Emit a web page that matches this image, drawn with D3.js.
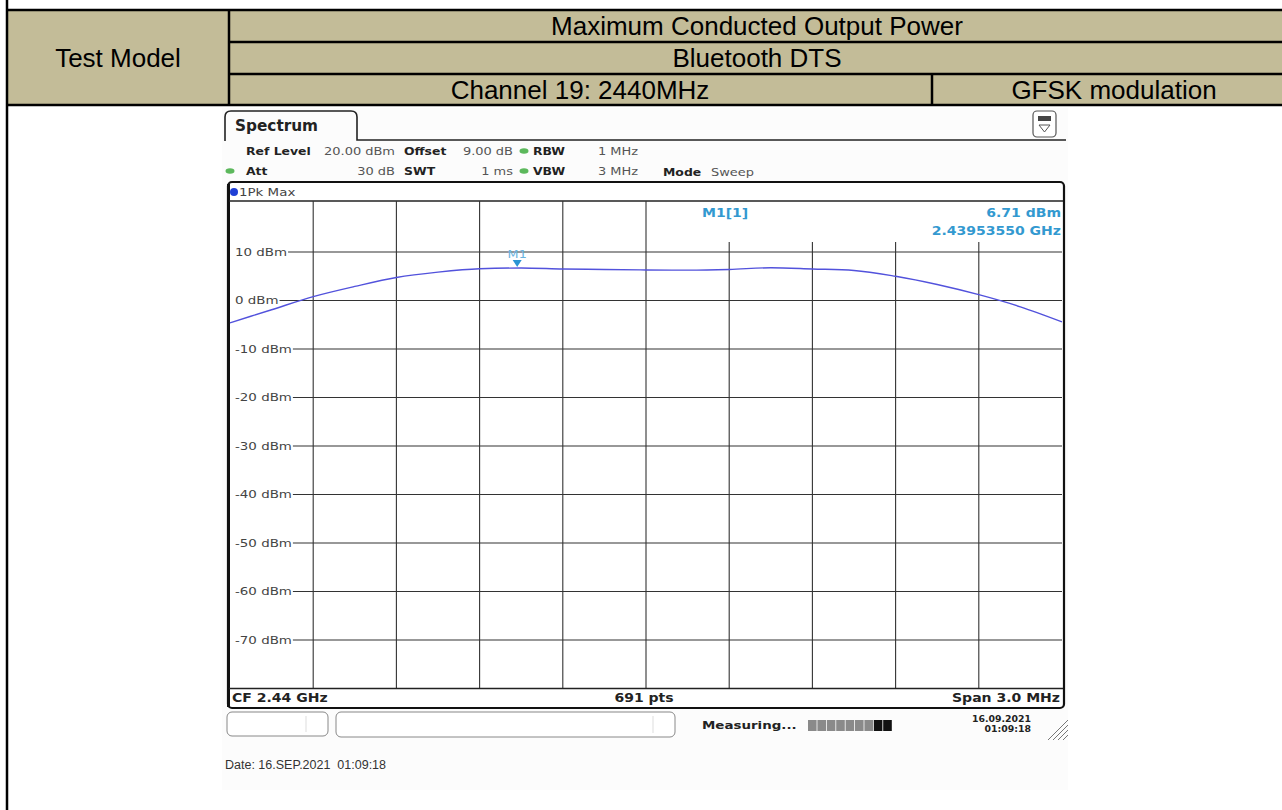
<!DOCTYPE html>
<html>
<head>
<meta charset="utf-8">
<script src="https://cdnjs.cloudflare.com/ajax/libs/d3/7.8.5/d3.min.js"></script>
<style>
  body { margin: 0; background: #fff; }
  text { white-space: pre; }
</style>
</head>
<body>
<div id="chart"></div>
<script>
const width = 1282
const height = 810

// table header
const headRows = ["Maximum Conducted Output Power", "Bluetooth DTS"]
const channelText = "Channel 19: 2440MHz"
const modText = "GFSK modulation"

// spectrum trace (MHz, dBm)
const freqMHz = [2438.50, 2438.65, 2438.80, 2438.95, 2439.10, 2439.25, 2439.40, 2439.55, 2439.70, 2439.85,
                 2440.00, 2440.15, 2440.30, 2440.45, 2440.60, 2440.75, 2440.90, 2441.05, 2441.20, 2441.35, 2441.50]
const levelDbm = [-4.6, -1.9, 0.8, 2.9, 4.75, 5.85, 6.55, 6.7, 6.5, 6.4,
                  6.3, 6.26, 6.4, 6.75, 6.5, 6.2, 5.0, 3.3, 1.2, -1.3, -4.4]
const gridFreqs = [2438.8, 2439.1, 2439.4, 2439.7, 2440.0, 2440.3, 2440.6, 2440.9, 2441.2]
const levelTicks = [10, 0, -10, -20, -30, -40, -50, -60, -70]
const marker = {name: "M1", freq: 2439.5355, level: 6.71}

const svg = d3.select("div#chart").append("svg").attr("width", width).attr("height", height)

// ---------- header table ----------
const tbl = svg.append("g").attr("class", "table")
tbl.append("rect").attr("x", 7).attr("y", 10).attr("width", width).attr("height", 95).attr("fill", "#c3bc98")
const ln = (g, x1, y1, x2, y2, w, c) => g.append("line").attr("x1", x1).attr("y1", y1).attr("x2", x2).attr("y2", y2)
    .attr("stroke", c || "#000").attr("stroke-width", w || 2.5)
ln(tbl, 7, 10, width, 10)
ln(tbl, 229, 42, width, 42)
ln(tbl, 229, 74, width, 74)
ln(tbl, 7, 105, width, 105)
ln(tbl, 229, 10, 229, 105)
ln(tbl, 932, 74, 932, 105)
ln(tbl, 7, 0, 7, height)

const tt = (x, y, s) => tbl.append("text").attr("x", x).attr("y", y).attr("text-anchor", "middle")
    .attr("font-family", "Liberation Sans, Arial").attr("font-size", 26).attr("fill", "#000").text(s)
tt(118, 67, "Test Model")
headRows.forEach((s, i) => tt(757, 35 + i * 32, s))
tt(580, 99, channelText)
tt(1114, 99, modText)

// ---------- spectrum screen ----------
const scr = svg.append("g").attr("class", "screen")
scr.append("rect").attr("x", 222).attr("y", 108).attr("width", 846).attr("height", 682).attr("fill", "#fcfcfc")

const SX = 1.22
const t = (x, y, s, o = {}) => scr.append("text")
    .attr("transform", `translate(${x},${y}) scale(${o.sx || SX},1)`)
    .attr("font-family", "DejaVu Sans").attr("font-size", o.size || 11.5)
    .attr("font-weight", o.bold ? "bold" : "normal").attr("fill", o.fill || "#333")
    .attr("text-anchor", o.anchor || "start").attr("dominant-baseline", "central").text(s)
const lab = (x, y, s) => t(x, y, s, {bold: true, fill: "#222", size: 11, sx: 1.13})
const val = (x, y, s, a) => t(x, y, s, {fill: "#555", size: 11, sx: 1.18, anchor: a || "start"})

// tab
scr.append("path").attr("d", "M225,141 V117 Q225,111 231,111 H351 Q357,111 357,117 V140 H1066")
    .attr("fill", "none").attr("stroke", "#222").attr("stroke-width", 1.6)
t(235, 126, "Spectrum", {size: 15, bold: true, sx: 1.02, fill: "#222"})
// icon
scr.append("rect").attr("x", 1033).attr("y", 111).attr("width", 23).attr("height", 26).attr("rx", 4)
    .attr("fill", "#fff").attr("stroke", "#555").attr("stroke-width", 1.2)
scr.append("rect").attr("x", 1038).attr("y", 116).attr("width", 13).attr("height", 5).attr("fill", "#444")
scr.append("path").attr("d", "M1039,125 H1050 L1044.5,132 Z").attr("fill", "none").attr("stroke", "#555")

// settings
const dot = (x, y) => scr.append("ellipse").attr("cx", x).attr("cy", y).attr("rx", 4.5).attr("ry", 2.8).attr("fill", "#5cb85c")
lab(246, 151, "Ref Level")
val(395, 151, "20.00 dBm", "end")
lab(404, 151, "Offset")
val(513, 151, "9.00 dB", "end")
dot(524, 151)
lab(533, 151, "RBW")
val(598, 151, "1 MHz")
dot(230, 171)
lab(246, 171, "Att")
val(395, 171, "30 dB", "end")
lab(404, 171, "SWT")
val(513, 171, "1 ms", "end")
dot(524, 171)
lab(533, 171, "VBW")
val(598, 171, "3 MHz")
lab(663, 172, "Mode")
val(711, 172, "Sweep")

// diagram frame
scr.append("rect").attr("x", 228).attr("y", 182).attr("width", 836).attr("height", 526).attr("rx", 4)
    .attr("fill", "#fff").attr("stroke", "#111").attr("stroke-width", 2.2)
ln(scr, 228.5, 184, 228.5, 707, 3, "#111")
scr.append("circle").attr("cx", 234).attr("cy", 192).attr("r", 4).attr("fill", "#1f3fd6")
t(239, 192, "1Pk Max", {size: 11, fill: "#444"})
ln(scr, 229, 201, 1063, 201, 1.4, "#222")

// scales
const x = d3.scaleLinear().domain([2438.5, 2441.5]).range([230, 1062])
const y = d3.scaleLinear().domain([-80, 20]).range([688.5, 203.5])

// vertical grid
const grid = scr.append("g").attr("class", "grid")
grid.selectAll("line.v").data(gridFreqs).enter().append("line").attr("class", "v")
    .attr("x1", d => x(d)).attr("x2", d => x(d))
    .attr("y1", d => x(d) > 650 ? 242 : 201).attr("y2", 688)
    .attr("stroke", "#333").attr("stroke-width", 1.1)

// horizontal grid with labels
levelTicks.forEach(v => {
  const l = t(235, y(v), `${v} dBm`, {size: 11, fill: "#444"})
  const w = l.node().getComputedTextLength() * SX
  ln(grid, 235 + w + 1, y(v), 1062, y(v), 1.1, "#333")
})

// bottom strip
ln(scr, 229, 688.5, 1063, 688.5, 1.4, "#222")
t(232, 698, "CF 2.44 GHz", {bold: true, fill: "#222"})
t(644, 698, "691 pts", {bold: true, fill: "#222", anchor: "middle"})
t(1060, 698, "Span 3.0 MHz", {bold: true, fill: "#222", anchor: "end"})

// trace
const line = d3.line().x(d => x(d[0])).y(d => y(d[1])).curve(d3.curveMonotoneX)
scr.append("path").datum(d3.zip(freqMHz, levelDbm))
    .attr("d", line).attr("fill", "none").attr("stroke", "#5252dc").attr("stroke-width", 1.4)

// marker
const mx = x(marker.freq), my = y(marker.level)
scr.append("path").attr("d", `M${mx - 4.5},${my - 8} H${mx + 4.5} L${mx},${my - 1} Z`).attr("fill", "#2a95d4")
t(mx, my - 14, marker.name, {size: 10.5, fill: "#6ab4e0", anchor: "middle"})
t(702, 213, "M1[1]", {bold: true, fill: "#3399d0", size: 11.5})
t(1061, 213, `${marker.level.toFixed(2)} dBm`, {bold: true, fill: "#3399d0", anchor: "end"})
t(1061, 231, "2.43953550 GHz", {bold: true, fill: "#3399d0", anchor: "end"})

// status bar
scr.append("rect").attr("x", 227).attr("y", 712).attr("width", 101).attr("height", 24).attr("rx", 5)
    .attr("fill", "#fff").attr("stroke", "#888").attr("stroke-width", 1)
ln(scr, 306, 716, 306, 732, 1, "#ddd")
scr.append("rect").attr("x", 336).attr("y", 712).attr("width", 339).attr("height", 25).attr("rx", 5)
    .attr("fill", "#fff").attr("stroke", "#888").attr("stroke-width", 1)
ln(scr, 653, 716, 653, 733, 1, "#ddd")
t(702, 725, "Measuring...", {bold: true, fill: "#222", size: 11})
const blocks = d3.range(9)
scr.selectAll("rect.pb").data(blocks).enter().append("rect").attr("class", "pb")
    .attr("x", d => 808 + d * 9.4).attr("y", 720).attr("width", 8.6).attr("height", 11)
    .attr("fill", d => d >= 7 ? "#111" : "#8a8a8a")
t(1031, 719, "16.09.2021", {bold: true, fill: "#222", size: 8.5, anchor: "end", sx: 1.1})
t(1031, 729, "01:09:18", {bold: true, fill: "#222", size: 8.5, anchor: "end", sx: 1.1})
;[0, 5, 10, 15].forEach(o => ln(scr, 1048 + o, 740, 1068, 720 + o, 1, "#777"))

// date stamp
svg.append("text").attr("x", 225).attr("y", 769).attr("font-family", "Liberation Sans, Arial")
    .attr("font-size", 12.5).attr("fill", "#333").text("Date: 16.SEP.2021  01:09:18")
</script>
</body>
</html>
